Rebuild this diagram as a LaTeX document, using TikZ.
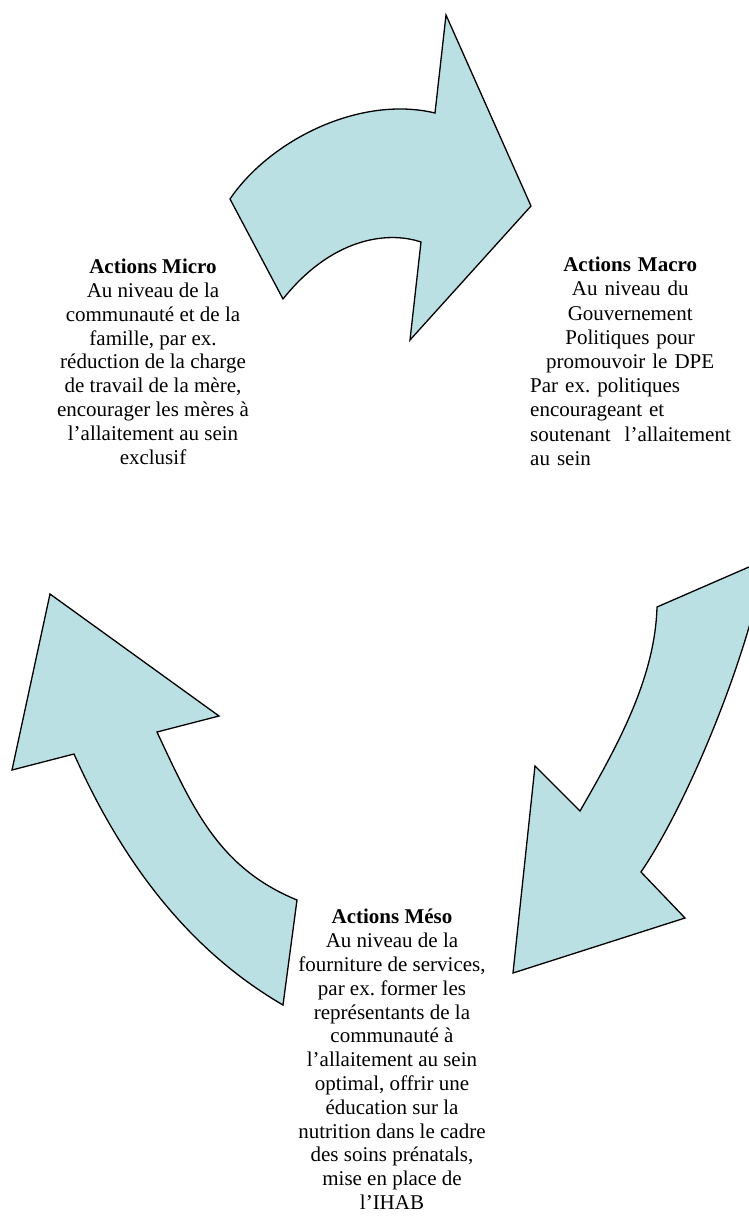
\documentclass[tikz,border=0pt]{standalone}
\usepackage{fontspec}
\setmainfont{Liberation Serif}
\usetikzlibrary{positioning}
\definecolor{cyclefill}{RGB}{187,224,227}
\tikzset{
  cyclearrow/.style={fill=cyclefill, draw=black, line width=1.3pt, line join=miter},
  actiontext/.style={inner sep=0pt, font=\fontsize{21}{23.8}\selectfont\frenchspacing, align=center}
}

\begin{document}
\begin{tikzpicture}[x=1pt, y=-1pt]
  \useasboundingbox (0,0) rectangle (749,1216);

  % top arrow (micro -> macro)
  \draw [cyclearrow] (230,199) .. controls (270,140) and (360,95) .. (435,113)
    -- (446,15) -- (531,206) -- (410,340) -- (421,242)
    .. controls (385,230) and (330,240) .. (283,299) -- cycle;

  % right arrow (macro -> meso)
  \draw [cyclearrow] (657,607) .. controls (655,680) and (615,750) .. (580,811)
    -- (535,766) -- (513,973) -- (685,918) -- (641,872)
    .. controls (690,800) and (750,650) .. (765,560) -- cycle;

  % left arrow (meso -> micro)
  \draw [cyclearrow] (50,594) -- (219,716) -- (157,732)
    .. controls (193,809) and (219,868) .. (297,900)
    -- (283,1005) .. controls (185,948) and (120,857) .. (74,754)
    -- (12,770) -- cycle;

  \node (micro) [actiontext, anchor=north] at (153,259)
    {\textbf{Actions Micro}\\ Au niveau de la\\ communauté et de la\\ famille, par ex.\\
     réduction de la charge\\ de travail de la mère,\\ encourager les mères à\\
     l’allaitement au sein\\ exclusif};

  \node (macro) [actiontext, font=\fontsize{21}{24.2}\selectfont\frenchspacing, align=left,
    text width=200pt, anchor=north west] at (530,257)
    {{\noindent\centering\textbf{Actions Macro}\\ Au niveau du\\ Gouvernement\\
      Politiques pour\\ promouvoir le DPE\par}
     \noindent Par ex. politiques\\ encourageant et\\
     \makebox[0pt][l]{soutenant\ \ l’allaitement}\\ au sein};

  \node (meso) [actiontext, anchor=north] at (392,909)
    {\textbf{Actions Méso}\\ Au niveau de la\\ fourniture de services,\\ par ex. former les\\
     représentants de la\\ communauté à\\ l’allaitement au sein\\ optimal, offrir une\\
     éducation sur la\\ nutrition dans le cadre\\ des soins prénatals,\\ mise en place de\\
     l’IHAB};
\end{tikzpicture}
\end{document}
